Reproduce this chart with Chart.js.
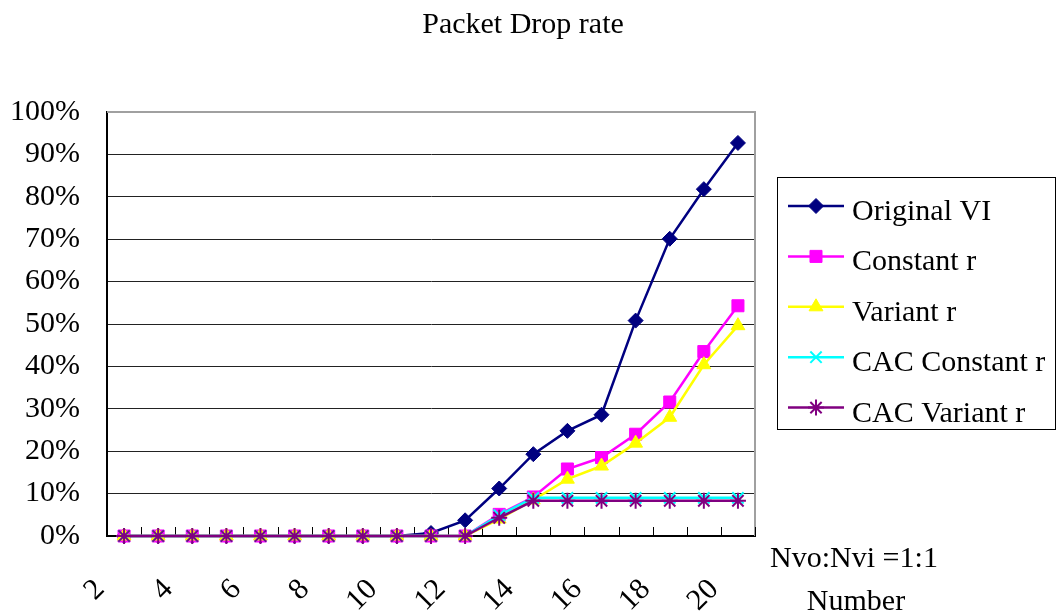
<!DOCTYPE html>
<html>
<head>
<meta charset="utf-8">
<title>Packet Drop rate</title>
<script src="https://cdn.jsdelivr.net/npm/chart.js@4.4.1/dist/chart.umd.min.js"></script>
<style>
  html, body { margin: 0; padding: 0; background: #fff; }
  #wrap { width: 1059px; height: 616px; }
</style>
</head>
<body>
<div id="wrap"><canvas id="c" width="1059" height="616"></canvas></div>
<script>
// Number of VI users (x axis)
const categories = ['2','3','4','5','6','7','8','9','10','11','12','13','14','15','16','17','18','19','20'];
// Only every other category gets a printed label
const shownLabels = ['2','4','6','8','10','12','14','16','18','20'];

// Packet drop rate, percent
const originalVI      = [0,0,0,0,0,0,0,0,0,0.7,3.7,11.2,19.3,24.8,28.6,50.8,70.1,81.8,92.7];
const constantR       = [0,0,0,0,0,0,0,0,0,0,0,5.1,9.2,15.8,18.5,24.0,31.6,43.5,54.3];
const variantR        = [0,0,0,0,0,0,0,0,0,0,0,4.0,8.5,13.4,16.5,21.9,28.0,40.4,49.6];
const cacConstantR    = [0,0,0,0,0,0,0,0,0,0,0,4.9,9.0,9.0,9.0,9.0,9.0,9.0,9.0];
const cacVariantR     = [0,0,0,0,0,0,0,0,0,0,0,4.3,8.3,8.3,8.3,8.3,8.3,8.3,8.3];

const seriesNames = ['Original VI', 'Constant r', 'Variant r', 'CAC Constant r', 'CAC Variant r'];

const FONT = "'Liberation Serif', 'Times New Roman', serif";
Chart.defaults.font.family = FONT;
Chart.defaults.font.size = 30;
Chart.defaults.color = '#000';

function series(label, data, color, style, radius, strokeOnly, order) {
  return {
    label, data, order,
    borderColor: color,
    backgroundColor: color,
    borderWidth: 2.5,
    pointStyle: style,
    pointRadius: radius,
    pointHoverRadius: radius,
    pointBorderColor: color,
    pointBackgroundColor: color,
    pointBorderWidth: strokeOnly ? 2 : 1,
    tension: 0,
    fill: false,
    clip: false
  };
}

const datasets = [
  series(seriesNames[0], originalVI,   '#000080', 'rectRot',  7.5, false, 5),
  series(seriesNames[1], constantR,    '#FF00FF', 'rect',     8.5, false, 4),
  series(seriesNames[2], variantR,     '#FFFF00', 'triangle', 8,   false, 3),
  series(seriesNames[3], cacConstantR, '#00FFFF', 'crossRot', 8,   true,  2),
  series(seriesNames[4], cacVariantR,  '#800080', 'star',     8,   true,  1)
];

// Plot frame pieces: gray top/right edges and inward category tick marks
const framePlugin = {
  id: 'frame',
  beforeDatasetsDraw(chart) {
    const { ctx, chartArea: a } = chart;
    const xs = chart.scales.x;
    ctx.save();
    ctx.strokeStyle = '#a0a0a0';
    ctx.lineWidth = 2;
    ctx.beginPath();
    ctx.moveTo(a.left, a.top);
    ctx.lineTo(a.right, a.top);
    ctx.lineTo(a.right, a.bottom);
    ctx.stroke();

    ctx.strokeStyle = '#000';
    ctx.lineWidth = 1;
    ctx.beginPath();
    const half = (xs.getPixelForValue(1) - xs.getPixelForValue(0)) / 2;
    for (let i = 0; i <= categories.length; i++) {
      const x = Math.round(xs.getPixelForValue(i) - half) + 0.5;
      ctx.moveTo(x, a.bottom);
      ctx.lineTo(x, a.bottom - 9);
    }
    ctx.stroke();
    ctx.restore();
  }
};

// Title, boxed legend and the axis notes on the right
const textPlugin = {
  id: 'texts',
  afterDraw(chart) {
    const { ctx } = chart;
    const dp = Chart.helpers && Chart.helpers.drawPoint;
    ctx.save();
    ctx.fillStyle = '#000';
    ctx.font = '30px ' + FONT;
    ctx.textBaseline = 'alphabetic';
    ctx.textAlign = 'center';
    ctx.fillText('Packet Drop rate', 523, 33);
    ctx.fillText('Nvo:Nvi =1:1', 854, 567);
    ctx.fillText('Number', 856, 610);

    // legend box
    const box = { l: 777.5, t: 177.5, r: 1055.5, b: 429.5 };
    ctx.strokeStyle = '#000';
    ctx.lineWidth = 1;
    ctx.strokeRect(box.l, box.t, box.r - box.l, box.b - box.t);

    const firstY = 206, gap = 50.4;
    chart.data.datasets.forEach((ds, i) => {
      const y = firstY + i * gap;
      ctx.strokeStyle = ds.borderColor;
      ctx.lineWidth = 2.5;
      ctx.beginPath();
      ctx.moveTo(788, y);
      ctx.lineTo(844, y);
      ctx.stroke();
      if (dp) {
        ctx.fillStyle = ds.pointBackgroundColor;
        ctx.strokeStyle = ds.pointBorderColor;
        ctx.lineWidth = ds.pointBorderWidth;
        dp(ctx, { pointStyle: ds.pointStyle, radius: ds.pointRadius, rotation: 0, borderWidth: ds.pointBorderWidth }, 816, y);
      }
      ctx.fillStyle = '#000';
      ctx.textAlign = 'left';
      ctx.fillText(ds.label, 852, y + 14);
    });
    ctx.restore();
  }
};

new Chart(document.getElementById('c'), {
  type: 'line',
  data: { labels: categories, datasets },
  options: {
    responsive: false,
    devicePixelRatio: 1,
    animation: false,
    events: [],
    layout: { padding: { top: 112, right: 304, bottom: 0, left: 0 } },
    plugins: {
      legend: { display: false },
      title: { display: false },
      tooltip: { enabled: false }
    },
    scales: {
      x: {
        type: 'category',
        offset: true,
        grid: { display: false, drawTicks: false },
        border: { display: true, color: '#000', width: 2 },
        ticks: {
          autoSkip: false,
          maxRotation: 45,
          minRotation: 45,
          padding: 36,
          labelOffset: -24,
          color: '#000',
          callback: function (value, index) {
            const lab = categories[index];
            return shownLabels.includes(lab) ? lab : '';
          }
        },
        afterFit(scale) { scale.height = 80; }
      },
      y: {
        min: 0,
        max: 100,
        grid: {
          drawTicks: false,
          lineWidth: 1,
          color: (c) => (c.tick && c.tick.value === 100) ? '#a0a0a0' : '#222'
        },
        border: { display: true, color: '#000', width: 2 },
        ticks: {
          stepSize: 10,
          padding: 27,
          color: '#000',
          callback: (v) => v + '%'
        },
        afterFit(scale) { scale.width = 107; }
      }
    }
  },
  plugins: [framePlugin, textPlugin]
});
</script>
</body>
</html>
